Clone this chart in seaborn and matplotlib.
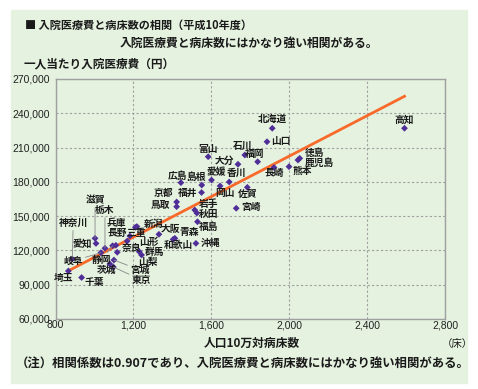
import matplotlib
matplotlib.use("Agg")
import matplotlib.pyplot as plt
import matplotlib.patches as mpatches
import seaborn as sns
import pandas as pd

# 都道府県別 人口10万対病床数と一人当たり入院医療費（平成10年度）
prefs = ['北海道', '青森', '岩手', '宮城', '秋田', '山形', '福島', '茨城', '栃木', '群馬',
         '埼玉', '千葉', '東京', '神奈川', '新潟', '富山', '石川', '福井', '山梨', '長野',
         '岐阜', '静岡', '愛知', '三重', '滋賀', '京都', '大阪', '兵庫', '奈良', '和歌山',
         '鳥取', '島根', '岡山', '広島', '山口', '徳島', '香川', '愛媛', '高知', '福岡',
         '佐賀', '長崎', '熊本', '大分', '宮崎', '鹿児島', '沖縄']
beds = [1913, 1413, 1515, 1100, 1526, 1168, 1529, 1079, 1054, 1230,
        866, 934, 1097, 886, 1218, 1584, 1772, 1550, 1242, 1110,
        1033, 1093, 1008, 1182, 1003, 1422, 1331, 1210, 1117, 1404,
        1422, 1551, 1645, 1444, 1886, 2054, 1692, 1601, 2592, 1838,
        1785, 1922, 1999, 1737, 1728, 2045, 1521]
cost = [226900, 130600, 155400, 111600, 152700, 128200, 145100, 108100, 121900, 118900,
        102000, 96300, 105500, 112500, 140900, 202000, 203500, 170700, 116000, 124500,
        118000, 124100, 126100, 132600, 130600, 162400, 134100, 140200, 118400, 129700,
        158300, 177200, 176400, 179300, 215100, 200600, 179900, 181600, 226900, 197600,
        175200, 192600, 193300, 195400, 156900, 199100, 126200]

x_ticks = [800, 1200, 1600, 2000, 2400, 2800]
y_ticks = [60000, 90000, 120000, 150000, 180000, 210000, 240000, 270000]

df = pd.DataFrame({'beds': beds, 'cost': cost, 'pref': prefs})

# label placement (pixels from the point: dx, dy, ha)
label_pos = {
    '北海道': (0, 9, 'center'), '山口': (4.5, 1, 'left'), '高知': (0, 8.5, 'center'),
    '徳島': (5, 5, 'left'), '鹿児島': (6.5, -2.5, 'left'), '熊本': (3.5, -4, 'left'),
    '長崎': (0, -6, 'center'), '福岡': (-3, 8, 'center'), '石川': (-2, 9, 'center'),
    '富山': (0, 7.5, 'center'), '大分': (-3.5, 3.3, 'right'), '愛媛': (4.5, 7.7, 'center'),
    '香川': (7, 8.7, 'center'), '岡山': (4.5, -7.3, 'center'), '佐賀': (0.6, -6.7, 'center'),
    '宮崎': (5, 1, 'left'), '岩手': (4.3, 6, 'left'), '秋田': (2.3, -1, 'left'),
    '福島': (1.3, -5.6, 'left'), '沖縄': (4.7, 0, 'left'), '広島': (-3, 6.7, 'center'),
    '島根': (-5.5, 7.7, 'center'), '福井': (-4, 0, 'right'), '京都': (-3.4, 8.7, 'right'),
    '鳥取': (-6.7, 1.7, 'right'), '大阪': (2.2, 5.2, 'left'), '青森': (4.3, 6.6, 'left'),
    '和歌山': (5, -5.7, 'center'), '新潟': (6.5, 2.4, 'left'), '兵庫': (-9.3, 4.8, 'right'),
    '長野': (1.3, 12.6, 'center'), '三重': (6, 2.7, 'center'), '山形': (12, -0.7, 'left'),
    '奈良': (4.4, 4, 'left'), '群馬': (5.7, 0, 'left'), '山梨': (6.6, -6.7, 'center'),
    '茨城': (-3.3, -6, 'center'), '埼玉': (-5, -7.3, 'center'), '千葉': (3.3, -4, 'left'),
    '愛知': (-4.3, 0, 'right'),
}
leader_pos = {
    '神奈川': (1, 36.3), '滋賀': (0, 38.3), '栃木': (0, 38.3), '岐阜': (-28, -8.3),
    '静岡': (-11, -14.3), '宮城': (26, -10), '東京': (28.2, -13),
}

plt.rcParams['font.family'] = ['Noto Sans CJK JP', 'DejaVu Sans']

W, H = 478, 389
fig = plt.figure(figsize=(W / 100, H / 100), dpi=100)
fig.patches.append(mpatches.Rectangle((11 / W, 1 - 383 / H), 456 / W, 373 / H,
                                      transform=fig.transFigure, color='#e4f2df', zorder=-5))

ax = fig.add_axes([55.5 / W, 70 / H, 389.5 / W, 240 / H])
ax.set_facecolor('none')

sns.regplot(data=df, x='beds', y='cost', scatter=False, ci=None, truncate=True,
            line_kws={'color': '#f9692a', 'lw': 2}, ax=ax)
sns.scatterplot(data=df, x='beds', y='cost', marker='D', s=12, color='#4f2e98',
                edgecolor='none', ax=ax, zorder=4)

for name, x, y in zip(prefs, beds, cost):
    if name in leader_pos:
        dx, dy = leader_pos[name]
        ax.annotate(name, (x, y), xytext=(dx, dy), textcoords='offset pixels',
                    ha='center', va='center', fontsize=7, fontweight='bold',
                    color='#1a1a1a', zorder=5,
                    arrowprops=dict(arrowstyle='-', color='#888888', lw=0.6,
                                    shrinkA=0, shrinkB=0))
    else:
        dx, dy, ha = label_pos[name]
        ax.annotate(name, (x, y), xytext=(dx, dy), textcoords='offset pixels',
                    ha=ha, va='center', fontsize=7, fontweight='bold',
                    color='#1a1a1a', zorder=5)

ax.set_xlim(800, 2800)
ax.set_ylim(60000, 270000)
ax.set_xticks(x_ticks)
ax.set_yticks(y_ticks)
ax.set_xticklabels([f'{v:,}' for v in x_ticks], fontfamily='Liberation Sans', fontsize=7.5)
ax.set_yticklabels([f'{v:,}' for v in y_ticks], fontfamily='Liberation Sans', fontsize=7.5)
ax.tick_params(length=0, pad=1, colors='#222222')
ax.tick_params(axis='y', pad=4)
ax.grid(True, color='#9f9f9f', lw=0.8, linestyle=(0, (2, 2)))
for s in ax.spines.values():
    s.set_color('#a0a0a0')
    s.set_linewidth(1)
ax.set_xlabel('')
ax.set_ylabel('')

def ftext(x, y, s, **kw):
    fig.text(x / W, 1 - y / H, s, va='center', color='#1a1a1a', **kw)

ftext(25, 25, '■ 入院医療費と病床数の相関（平成10年度）', fontsize=8.0, fontweight='bold')
ftext(249, 43, '入院医療費と病床数にはかなり強い相関がある。', fontsize=8.5, ha='center', fontweight='bold')
ftext(24, 64, '一人当たり入院医療費（円）', fontsize=8.4, fontweight='bold')
ftext(252, 343, '人口10万対病床数', fontsize=8.5, ha='center', fontweight='bold')
ftext(457, 344, '（床）', fontsize=7.5, ha='center')
ftext(16, 363, '（注）相関係数は0.907であり、入院医療費と病床数にはかなり強い相関がある。', fontsize=8.9, fontweight='bold')

fig.savefig('out.png', dpi=100)
